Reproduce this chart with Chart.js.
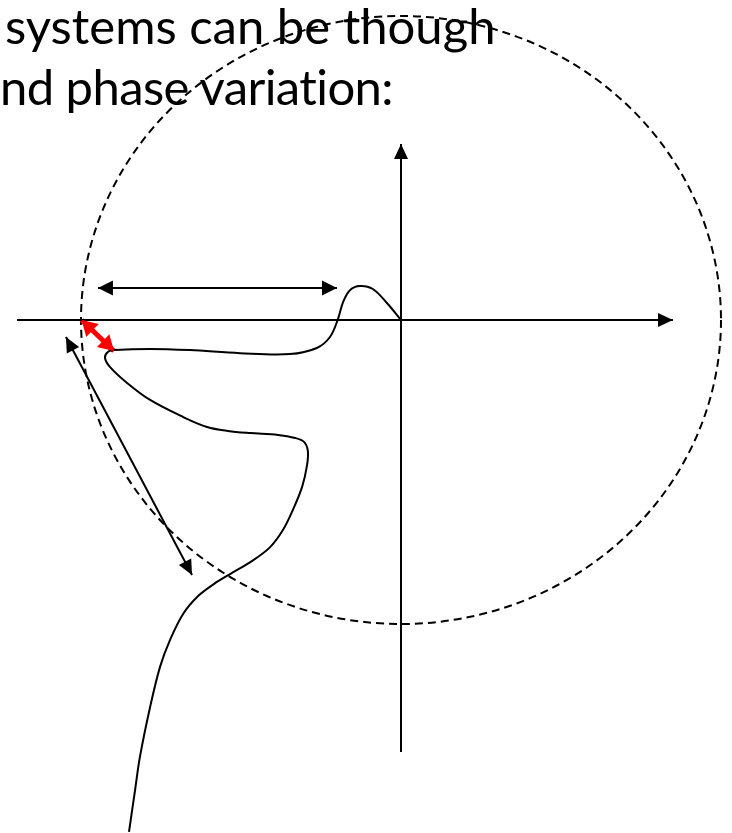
<!DOCTYPE html>
<html>
<head>
<meta charset="utf-8">
<title>Nyquist margins</title>
<script src="https://cdn.jsdelivr.net/npm/chart.js@4.4.1/dist/chart.umd.min.js"></script>
<style>
    html, body { margin: 0; padding: 0; background: #fff; }
    #wrap { position: relative; width: 732px; height: 833px; overflow: hidden; }
    .caption {
        position: absolute;
        font-family: Lato, "Open Sans", sans-serif;
        font-size: 49px;
        line-height: 49px;
        font-variant-ligatures: none;
        color: #000;
        white-space: nowrap;
    }
    #plot { position: absolute; left: 0; top: 0; width: 732px; height: 833px; }
</style>
</head>
<body>
<div id="wrap">
    <div class="caption" style="left:5px; top:1px;">systems can be though</div>
    <div class="caption" style="left:0px; top:62px; letter-spacing:-0.6px;">nd phase variation:</div>
    <div id="plot"><canvas id="nyquist"></canvas></div>
</div>
<script>
// Nyquist plane, scaled so that the dashed unit circle has radius 1.
// Curve runs from low frequency (bottom) up to the origin.
const curveRe = [
    -0.850, -0.831, -0.816, -0.784, -0.753, -0.722, -0.681, -0.634, -0.584, -0.528,
    -0.466, -0.409, -0.369, -0.338, -0.309, -0.294, -0.291, -0.303, -0.331, -0.384,
    -0.472, -0.541, -0.606, -0.681, -0.784, -0.856, -0.909, -0.925, -0.916, -0.894,
    -0.784, -0.659, -0.503, -0.347, -0.263, -0.222, -0.197, -0.181, -0.159, -0.128,
    -0.088, -0.044, 0.000,
];
const curveIm = [
    -1.684, -1.546, -1.438, -1.273, -1.141, -1.053, -0.967, -0.908, -0.868, -0.832,
    -0.793, -0.747, -0.691, -0.625, -0.549, -0.480, -0.431, -0.401, -0.388, -0.378,
    -0.372, -0.365, -0.352, -0.319, -0.263, -0.207, -0.155, -0.125, -0.105, -0.099,
    -0.095, -0.099, -0.109, -0.112, -0.092, -0.056, 0.003, 0.059, 0.099, 0.112,
    0.102, 0.056, 0.000,
];

const realAxisRe = [-1.200, 0.850];
const realAxisIm = [0, 0];
const imagAxisRe = [0, 0];
const imagAxisIm = [-1.421, 0.579];

// gain span (horizontal), radius (diagonal) and margin (red) arrows
const gainArrowRe = [-0.947, -0.200];
const gainArrowIm = [0.105, 0.105];
const radiusArrowRe = [-1.047, -0.653];
const radiusArrowIm = [-0.056, -0.839];
const marginArrowRe = [-0.998, -0.897];
const marginArrowIm = [0.000, -0.102];

const unitCircleRadius = 1;

function toPoints(xs, ys) {
    return xs.map((x, i) => ({ x, y: ys[i] }));
}

function lineSet(xs, ys, color, width, arrowEnds, head) {
    return {
        data: toPoints(xs, ys),
        showLine: true,
        borderColor: color,
        backgroundColor: color,
        borderWidth: width,
        pointRadius: 0,
        tension: 0,
        arrowEnds,
        arrowHead: head,
    };
}

// dashed circle drawn around the scaled origin
const unitCirclePlugin = {
    id: "unitCircle",
    beforeDatasetsDraw(chart) {
        const { ctx, scales: { x, y } } = chart;
        const cx = x.getPixelForValue(0);
        const cy = y.getPixelForValue(0);
        const rx = x.getPixelForValue(unitCircleRadius) - cx;
        const ry = cy - y.getPixelForValue(unitCircleRadius);
        ctx.save();
        ctx.strokeStyle = "#000";
        ctx.lineWidth = 2;
        ctx.setLineDash([8, 5]);
        ctx.beginPath();
        ctx.ellipse(cx, cy, rx, ry, 0, 0, Math.PI * 2);
        ctx.stroke();
        ctx.restore();
    },
};

// filled triangle heads on the ends of datasets that ask for them
const arrowHeadPlugin = {
    id: "arrowHeads",
    afterDatasetsDraw(chart) {
        const ctx = chart.ctx;
        chart.data.datasets.forEach((ds, i) => {
            if (!ds.arrowEnds) return;
            const pts = chart.getDatasetMeta(i).data;
            const [len, half] = ds.arrowHead || [15, 7];
            const draw = (tip, from) => {
                const a = Math.atan2(tip.y - from.y, tip.x - from.x);
                ctx.beginPath();
                ctx.moveTo(tip.x, tip.y);
                ctx.lineTo(tip.x - len * Math.cos(a) + half * Math.sin(a),
                           tip.y - len * Math.sin(a) - half * Math.cos(a));
                ctx.lineTo(tip.x - len * Math.cos(a) - half * Math.sin(a),
                           tip.y - len * Math.sin(a) + half * Math.cos(a));
                ctx.closePath();
                ctx.fill();
            };
            ctx.save();
            ctx.fillStyle = ds.borderColor;
            if (ds.arrowEnds.includes("start")) draw(pts[0], pts[1]);
            if (ds.arrowEnds.includes("end")) draw(pts[pts.length - 1], pts[pts.length - 2]);
            ctx.restore();
        });
    },
};

function initNyquist() {
    const canvas = document.getElementById("nyquist");
    const curve = {
        data: toPoints(curveRe, curveIm),
        showLine: true,
        borderColor: "#000",
        borderWidth: 2,
        pointRadius: 0,
        tension: 0.35,
    };
    new Chart(canvas, {
        type: "scatter",
        data: {
            datasets: [
                lineSet(realAxisRe, realAxisIm, "#000", 2, ["end"], [15, 7]),
                lineSet(imagAxisRe, imagAxisIm, "#000", 2, ["end"], [15, 7]),
                curve,
                lineSet(gainArrowRe, gainArrowIm, "#000", 2, ["start", "end"], [15, 7.5]),
                lineSet(radiusArrowRe, radiusArrowIm, "#000", 2, ["start", "end"], [15, 7]),
                lineSet(marginArrowRe, marginArrowIm, "#ff0000", 5, ["start", "end"], [15, 9]),
            ],
        },
        options: {
            responsive: true,
            maintainAspectRatio: false,
            animation: false,
            events: [],
            layout: { padding: 0 },
            plugins: { legend: { display: false }, tooltip: { enabled: false } },
            scales: {
                x: { type: "linear", display: false, min: -401 / 320, max: 331 / 320 },
                y: { type: "linear", display: false, min: -513 / 304, max: 320 / 304 },
            },
        },
        plugins: [unitCirclePlugin, arrowHeadPlugin],
    });
}

initNyquist();
</script>
</body>
</html>
